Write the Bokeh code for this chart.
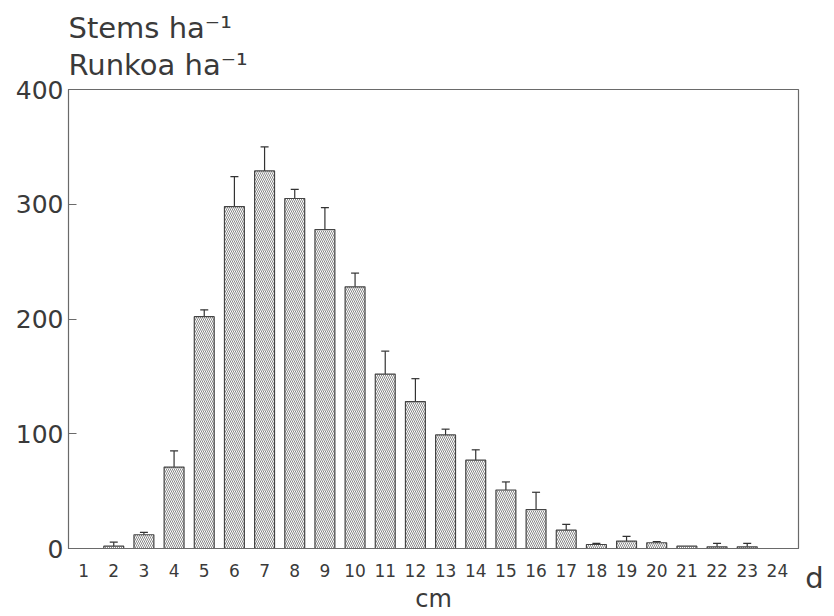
from bokeh.plotting import figure
from bokeh.models import (ColumnDataSource, Whisker, TeeHead, FixedTicker, Range1d, Title)
from bokeh.layouts import row
from bokeh.embed import file_html
from bokeh.resources import INLINE

classes = list(range(1, 25))
stems = [0, 2, 12, 71, 202, 298, 329, 305, 278, 228, 152, 128, 99, 77, 51, 34, 16, 3.5, 6.5, 5, 2, 1.5, 1.5, 0]
errors = [0, 3.5, 2, 14, 6, 26, 21, 8, 19, 12, 20, 20, 5, 9, 7, 15, 5, 1, 4, 1, 0, 3, 3, 0]
y_ticks = [0, 100, 200, 300, 400]

FONT = "DejaVu Sans"
TXT = "#3a3a3a"
LINE = "#6a6a6a"

p = figure(width=802, height=616, output_backend="svg", toolbar_location=None,
           x_range=Range1d(0.5, 24.7), y_range=Range1d(0, 400),
           min_border_left=68, min_border_right=4, min_border_top=89, min_border_bottom=68)
p.grid.visible = False
p.outline_line_color = LINE
p.outline_line_width = 1.2
p.background_fill_color = "white"
p.border_fill_color = "white"

src = ColumnDataSource(dict(x=[c for c, v in zip(classes, stems) if v > 0],
                            top=[v for v in stems if v > 0]))
p.vbar(x="x", top="top", width=0.66, source=src, fill_color="white",
       line_color="#444444", line_width=1.2,
       hatch_pattern="\\", hatch_color="#6a6a6a", hatch_scale=4, hatch_weight=0.8)

ex = [c for c, e in zip(classes, errors) if e > 0]
ev = [v for v, e in zip(stems, errors) if e > 0]
ee = [e for e in errors if e > 0]
esrc = ColumnDataSource(dict(x=ex, upper=[v + e for v, e in zip(ev, ee)],
                             lower=[max(v - e, 0) for v, e in zip(ev, ee)]))
w = Whisker(base="x", upper="upper", lower="lower", source=esrc,
            line_color="#333333", line_width=1.2,
            upper_head=TeeHead(size=8, line_color="#333333", line_width=1.2),
            lower_head=TeeHead(size=4, line_color="#333333", line_width=1.2))
p.add_layout(w)

p.xaxis.ticker = FixedTicker(ticks=classes)
p.xaxis.major_tick_out = 0
p.xaxis.major_tick_in = 0
p.xaxis.minor_tick_line_color = None
p.xaxis.axis_line_color = LINE
p.xaxis.major_label_text_font = FONT
p.xaxis.major_label_text_font_size = "17px"
p.xaxis.major_label_text_color = TXT
p.xaxis.major_label_standoff = 15
p.xaxis.axis_label = "cm"
p.xaxis.axis_label_text_font = FONT
p.xaxis.axis_label_text_font_size = "24px"
p.xaxis.axis_label_text_font_style = "normal"
p.xaxis.axis_label_text_color = TXT
p.xaxis.axis_label_standoff = 5

p.yaxis.ticker = FixedTicker(ticks=y_ticks)
p.yaxis.major_tick_out = 0
p.yaxis.major_tick_in = 8
p.yaxis.major_tick_line_color = LINE
p.yaxis.minor_tick_line_color = None
p.yaxis.axis_line_color = LINE
p.yaxis.major_label_text_font = FONT
p.yaxis.major_label_text_font_size = "25px"
p.yaxis.major_label_text_color = TXT
p.yaxis.major_label_standoff = 5

p.add_layout(Title(text="Stems ha⁻¹\nRunkoa ha⁻¹", align="left", text_font=FONT,
                   text_font_size="29px", text_font_style="normal", text_color=TXT,
                   text_line_height=1.09, standoff=14), "above")

# narrow companion panel: its own x-axis carries the "d" unit marker on the tick-label row
q = figure(width=32, height=616, output_backend="svg", toolbar_location=None,
           y_axis_location=None, x_axis_location="below",
           min_border_left=0, min_border_right=0, min_border_top=89, min_border_bottom=68,
           x_range=Range1d(0, 32), y_range=Range1d(0, 1))
q.grid.visible = False
q.outline_line_color = None
q.border_fill_color = "white"
q.background_fill_color = "white"
q.xaxis.ticker = FixedTicker(ticks=[12])
q.xaxis.major_label_overrides = {12: "d"}
q.xaxis.axis_line_color = None
q.xaxis.major_tick_line_color = None
q.xaxis.minor_tick_line_color = None
q.xaxis.major_tick_out = 0
q.xaxis.major_tick_in = 0
q.xaxis.major_label_standoff = 12
q.xaxis.major_label_text_font = FONT
q.xaxis.major_label_text_font_size = "29px"
q.xaxis.major_label_text_color = TXT

layout = row(p, q, spacing=0)
open("out.html", "w").write(file_html(layout, INLINE))
